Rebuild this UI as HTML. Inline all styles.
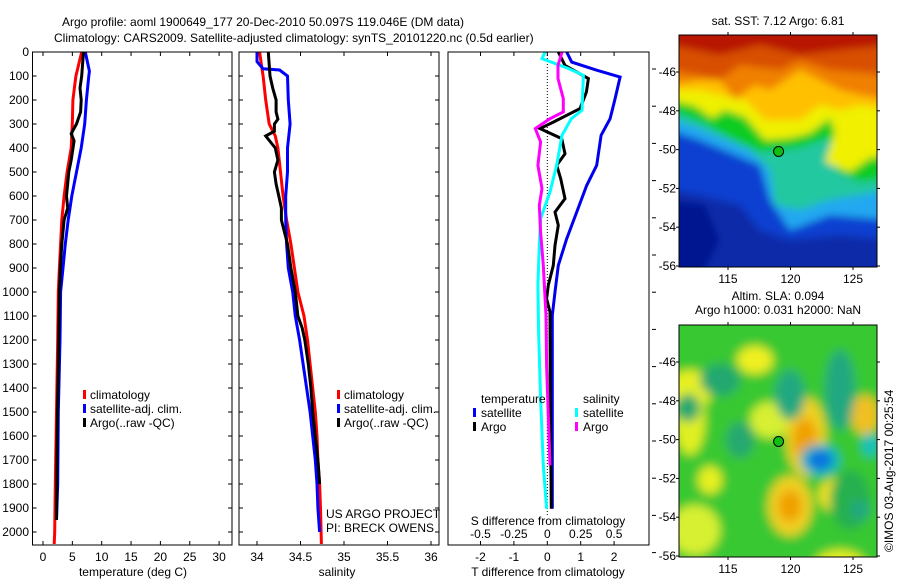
<!DOCTYPE html>
<html><head><meta charset="utf-8">
<style>
html,body{margin:0;padding:0;background:#fff;}
body{width:900px;height:580px;overflow:hidden;font-family:"Liberation Sans",sans-serif;}
svg text{font-family:"Liberation Sans",sans-serif;font-size:12px;fill:#000;}
</style></head>
<body>
<svg id="chart" width="900" height="580" viewBox="0 0 900 580" xmlns="http://www.w3.org/2000/svg">
<defs>
<filter id="blur3" x="-20%" y="-20%" width="140%" height="140%"><feGaussianBlur stdDeviation="4"/></filter>
<filter id="blur5" x="-50%" y="-50%" width="200%" height="200%"><feGaussianBlur stdDeviation="5"/></filter>
<clipPath id="clipM1"><rect x="679" y="35" width="198" height="232"/></clipPath>
<clipPath id="clipM2"><rect x="679" y="325" width="198" height="232"/></clipPath>
</defs>
<text x="62" y="26">Argo profile: aoml 1900649_177 20-Dec-2010 50.097S 119.046E (DM data)</text>
<text x="54" y="42">Climatology: CARS2009. Satellite-adjusted climatology: synTS_20101220.nc (0.5d earlier)</text>
<g id="panels"></g>
<g id="maps"></g>
</svg>
<script>
// ---------- data ----------
const tDepthClim = [0,100,200,300,400,500,600,700,800,900,1000,1200,1500,1800,2000,2050];
const tClim = [6.6,5.6,5.1,5.0,4.8,4.1,3.6,3.2,3.0,2.8,2.6,2.5,2.3,2.1,2.0,1.9];
const tDepthSat = [0,80,100,200,300,400,500,600,700,800,900,1000,1200,1500,1800,1950];
const tSat = [7.2,7.9,7.8,7.4,7.1,6.5,5.7,4.9,4.3,3.8,3.4,3.0,2.9,2.6,2.5,2.3];
const tDepthArgo = [0,100,150,200,250,300,340,370,450,500,600,650,700,800,900,1000,1300,1600,1950];
const tArgo = [6.9,6.6,6.3,6.5,6.4,5.7,4.8,5.3,4.8,4.4,4.0,4.2,3.6,3.2,2.95,2.8,2.6,2.4,2.3];

const sDepthClim = [0,50,100,200,300,350,400,500,600,700,800,900,1000,1100,1200,1300,1400,1500,1600,1700,1800,1900,2050];
const sClim = [34.03,34.05,34.07,34.10,34.14,34.21,34.24,34.27,34.30,34.34,34.39,34.43,34.47,34.54,34.58,34.61,34.64,34.67,34.69,34.70,34.72,34.73,34.74];
const sDepthSat = [0,40,70,75,100,200,300,400,500,600,700,800,900,1000,1100,1200,1300,1400,1500,1600,1700,1800,1900,2000];
const sSat = [34.00,34.00,34.07,34.26,34.35,34.36,34.38,34.35,34.35,34.33,34.33,34.34,34.36,34.41,34.44,34.49,34.53,34.57,34.61,34.64,34.67,34.69,34.70,34.72];
const sDepthArgo = [0,100,150,200,250,280,300,330,350,400,450,500,550,600,650,700,800,900,1000,1100,1150,1200,1300,1400,1500,1600,1700,1800];
const sArgo = [34.13,34.15,34.18,34.22,34.22,34.24,34.20,34.20,34.10,34.21,34.24,34.20,34.22,34.25,34.28,34.28,34.35,34.39,34.44,34.47,34.52,34.55,34.59,34.62,34.64,34.67,34.70,34.72];

const dDepthTSat = [0,42,76,104,194,278,347,472,556,667,778,889,1000,1097,1306,1903];
const dTSat = [0.58,0.73,1.48,2.18,2.03,1.88,1.61,1.48,1.18,0.88,0.58,0.33,0.23,0.15,0.15,0.15];
const dDepthTArgo = [0,56,111,167,236,292,319,361,424,472,528,611,667,722,806,889,972,1028,1083,1444,1903];
const dTArgo = [0.33,0.53,1.23,1.17,0.98,0.18,-0.22,0.43,0.53,0.28,0.40,0.53,0.23,0.33,0.23,0.18,0.03,-0.02,0.08,0.09,0.12];
const dDepthSSat = [0,28,69,97,243,278,347,472,583,694,806,972,1167,1444,1722,1903];
const dSSat = [-0.017,-0.04,0.16,0.27,0.26,0.18,0.11,0.07,0.02,-0.05,-0.06,-0.07,-0.065,-0.05,-0.03,-0.005];
const dDepthSArgo = [0,56,111,194,250,278,319,375,472,569,639,750,889,1097,1306,1722];
const dSArgo = [0.11,0.08,0.08,0.12,0.12,0.02,-0.09,-0.05,-0.07,-0.04,-0.06,-0.05,-0.03,-0.01,-0.005,0.02];

const depthTicks = [0,100,200,300,400,500,600,700,800,900,1000,1100,1200,1300,1400,1500,1600,1700,1800,1900,2000];
const tTicks = [0,5,10,15,20,25,30];
const sTicks = [34,34.5,35,35.5,36];
const sTickLabels = ['34','34.5','35','35.5','36'];
const dTTicks = [-2,-1,0,1,2];
const dSTicks = [-0.5,-0.25,0,0.25,0.5];
const dSTickLabels = ['-0.5','-0.25','0','0.25','0.5'];
const latTicks = [-46,-48,-50,-52,-54,-56];
const lonTicks = [115,120,125];
const argoLat = -50.097, argoLon = 119.046;

// ---------- helpers ----------
const NS='http://www.w3.org/2000/svg';
function mk(tag, attrs, parent){const e=document.createElementNS(NS,tag);for(const k in attrs)e.setAttribute(k,attrs[k]);parent.appendChild(e);return e;}
const TOP=52, BOT=545;
const yD = d => 52 + d*0.24;
const xT = t => 43 + t*5.87;
const xS = s => 257 + (s-34)*87;
const xDT = t => 547.3 + t*33.4;
const xDS = s => 547.3 + s*133.6;
const panels=document.getElementById('panels');

function stepLine(xs, ds, xf, color, name, parent){
  let d='';
  for(let i=0;i<xs.length;i++){
    const x=xf(xs[i]).toFixed(1), y=yD(ds[i]).toFixed(1);
    d += (i? 'L':'M')+x+' '+y;
  }
  const p=mk('path',{d:d,fill:'none',stroke:color,'stroke-width':3,'stroke-linejoin':'miter'},parent);
  
  
}
function frame(x0,x1,name){
  const r=mk('rect',{x:x0,y:TOP,width:x1-x0,height:BOT-TOP,fill:'none',stroke:'#000','stroke-width':1},panels);
  
  
}

// Panel 1 temperature
const g1=mk('g',{},panels);


frame(32.5,232,'temperature-axes');
depthTicks.forEach(d=>{
  const y=yD(d);
  mk('line',{x1:32.5,x2:36.5,y1:y,y2:y,stroke:'#000'},g1);
  mk('line',{x1:228,x2:232,y1:y,y2:y,stroke:'#000'},g1);
  const t=mk('text',{x:29,y:y+4,'text-anchor':'end'},g1);t.textContent=d;
  
  
});
tTicks.forEach(v=>{
  const x=xT(v);
  mk('line',{x1:x,x2:x,y1:BOT,y2:BOT-4,stroke:'#000'},g1);
  mk('line',{x1:x,x2:x,y1:TOP,y2:TOP+4,stroke:'#000'},g1);
  const t=mk('text',{x:x,y:561,'text-anchor':'middle'},g1);t.textContent=v;
  
  
});
let tt=mk('text',{x:133,y:576,'text-anchor':'middle'},g1);tt.textContent='temperature (deg C)';


stepLine(tClim,tDepthClim,xT,'#ff0000','temp-climatology-line',g1);
stepLine(tSat,tDepthSat,xT,'#0000ff','temp-satellite-line',g1);
stepLine(tArgo,tDepthArgo,xT,'#000000','temp-argo-line',g1);

// Panel 2 salinity
const g2=mk('g',{},panels);


frame(239,439,'salinity-axes');
depthTicks.forEach(d=>{
  const y=yD(d);
  mk('line',{x1:239,x2:243,y1:y,y2:y,stroke:'#000'},g2);
  mk('line',{x1:435,x2:439,y1:y,y2:y,stroke:'#000'},g2);
});
sTicks.forEach((v,i)=>{
  const x=xS(v);
  mk('line',{x1:x,x2:x,y1:BOT,y2:BOT-4,stroke:'#000'},g2);
  mk('line',{x1:x,x2:x,y1:TOP,y2:TOP+4,stroke:'#000'},g2);
  const t=mk('text',{x:x,y:561,'text-anchor':'middle'},g2);t.textContent=sTickLabels[i];
  
  
});
tt=mk('text',{x:337,y:576,'text-anchor':'middle'},g2);tt.textContent='salinity';


stepLine(sClim,sDepthClim,xS,'#ff0000','sal-climatology-line',g2);
stepLine(sSat,sDepthSat,xS,'#0000ff','sal-satellite-line',g2);
stepLine(sArgo,sDepthArgo,xS,'#000000','sal-argo-line',g2);

// legends 1 & 2
function legend(x0,parent,name){
  const lg=mk('g',{},parent);
  
  
  [['climatology','#ff0000'],['satellite-adj. clim.','#0000ff'],['Argo(..raw -QC)','#000']].forEach((e,i)=>{
    const y=399+i*14;
    mk('rect',{x:x0,y:y-9,width:3,height:9,fill:e[1]},lg);
    const t=mk('text',{x:x0+7,y:y},lg);t.textContent=e[0];
    
    
  });
}
legend(83,g1,'temperature-legend');
legend(337,g2,'salinity-legend');
let pt=mk('text',{x:326,y:518},g2);pt.textContent='US ARGO PROJECT';


pt=mk('text',{x:326,y:532},g2);pt.textContent='PI: BRECK OWENS';



// Panel 3 differences
const g3=mk('g',{},panels);


frame(448,649,'difference-axes');
for(let i=0;i<14;i++){
  const y=69+i*37.2;
  if(y<575) mk('line',{x1:652,x2:656,y1:y,y2:y,stroke:'#000'},g3);
}
mk('line',{x1:xDT(0),x2:xDT(0),y1:TOP,y2:BOT-30,stroke:'#000','stroke-dasharray':'1,2'},g3);
dTTicks.forEach(v=>{
  const x=xDT(v);
  mk('line',{x1:x,x2:x,y1:BOT,y2:BOT-4,stroke:'#000'},g3);
  mk('line',{x1:x,x2:x,y1:TOP,y2:TOP+4,stroke:'#000'},g3);
  const t=mk('text',{x:x,y:561,'text-anchor':'middle'},g3);t.textContent=v;
  
  
});
dSTicks.forEach((v,i)=>{
  const t=mk('text',{x:xDS(v),y:538,'text-anchor':'middle'},g3);t.textContent=dSTickLabels[i];
  
  
});
tt=mk('text',{x:548,y:576,'text-anchor':'middle'},g3);tt.textContent='T difference from climatology';


stepLine(dTSat,dDepthTSat,xDT,'#0000ee','tdiff-satellite-line',g3);
stepLine(dTArgo,dDepthTArgo,xDT,'#000000','tdiff-argo-line',g3);
stepLine(dSSat,dDepthSSat,xDS,'#00ffff','sdiff-satellite-line',g3);
stepLine(dSArgo,dDepthSArgo,xDS,'#ff00ff','sdiff-argo-line',g3);
tt=mk('text',{x:548,y:525,'text-anchor':'middle'},g3);tt.textContent='S difference from climatology';


const lg3=mk('g',{},g3);


[['temperature',481,403,null],['satellite',481,417,'#0000ff'],['Argo',481,431,'#000'],['salinity',583,403,null],['satellite',583,417,'#00ffff'],['Argo',583,431,'#ff00ff']].forEach(e=>{
  if(e[3]) mk('rect',{x:e[1]-8,y:e[2]-9,width:3,height:9,fill:e[3]},lg3);
  const t=mk('text',{x:e[1],y:e[2]},lg3);t.textContent=e[0];
  
  
});

// ---------- maps ----------
const maps=document.getElementById('maps');
function mapAxes(y0,name){
  const X0=679,W=198,H=232;
  const yL = lat => y0 + 37 + (-46-lat)*19.4;
  const xL = lon => 728 + (lon-115)*12.5;
  const g=mk('g',{},maps);
  
  
  mk('rect',{x:X0,y:y0,width:W,height:H,fill:'none',stroke:'#000'},g);
  latTicks.forEach(l=>{
    const y=yL(l);
    mk('line',{x1:X0,x2:X0-3,y1:y,y2:y,stroke:'#000'},g);
    mk('line',{x1:X0+W,x2:X0+W+3,y1:y,y2:y,stroke:'#000'},g);
    const t=mk('text',{x:676,y:y+4,'text-anchor':'end'},g);t.textContent=l;
    
    
  });
  lonTicks.forEach(l=>{
    const x=xL(l);
    mk('line',{x1:x,x2:x,y1:y0,y2:y0-3,stroke:'#000'},g);
    mk('line',{x1:x,x2:x,y1:y0+H,y2:y0+H+3,stroke:'#000'},g);
    const t=mk('text',{x:x,y:y0+H+16,'text-anchor':'middle'},g);t.textContent=l;
    
    
  });
  const c=mk('circle',{cx:xL(argoLon),cy:yL(argoLat),r:5,fill:'#10c010',stroke:'#000'},g);
  
  
}
// SST map
const m1=mk('g',{'clip-path':'url(#clipM1)'},maps);


const g1b=mk('g',{filter:'url(#blur3)'},m1);
mk('rect',{x:670,y:25,width:220,height:250,fill:'#1040d0'},g1b);
mk('path',{d:'M670 190 L700 195 L740 205 L760 230 L790 240 L840 235 L890 240 L890 280 L670 280Z',fill:'#0a2aa8'},g1b);
mk('path',{d:'M670 200 L705 205 L720 240 L700 280 L670 280Z',fill:'#001890'},g1b);
mk('path',{d:'M670 130 L700 140 L760 165 L770 200 L790 230 L830 215 L890 220 L890 25 L670 25Z',fill:'#20a8f0'},g1b);
mk('path',{d:'M670 118 L700 128 L750 150 L770 170 L775 205 L800 210 L830 200 L860 195 L890 190 L890 25 L670 25Z',fill:'#20c8a0'},g1b);
mk('path',{d:'M670 110 L700 122 L730 138 L760 152 L800 148 L830 138 L838 172 L860 182 L890 178 L890 25 L670 25Z',fill:'#10cc20'},g1b);
mk('path',{d:'M670 100 L695 106 L712 118 L725 110 L745 117 L765 140 L790 138 L810 133 L830 118 L835 133 L825 162 L850 172 L870 158 L890 155 L890 25 L670 25Z',fill:'#f0f000'},g1b);
mk('path',{d:'M670 90 L700 90 L720 95 L745 100 L765 120 L800 120 L820 105 L840 110 L860 105 L890 110 L890 25 L670 25Z',fill:'#ffc000'},g1b);
mk('path',{d:'M670 85 L700 80 L720 80 L735 100 L755 85 L770 90 L800 70 L820 80 L840 90 L860 95 L890 100 L890 25 L670 25Z',fill:'#f08000'},g1b);
mk('path',{d:'M670 70 L720 80 L740 65 L780 70 L800 60 L830 70 L890 75 L890 25 L670 25Z',fill:'#d85000'},g1b);
mk('path',{d:'M670 45 L720 55 L760 45 L800 55 L840 50 L890 45 L890 25 L670 25Z',fill:'#b81800'},g1b);
mapAxes(35,'sst-map');
let mt=mk('text',{x:778,y:25,'text-anchor':'middle'},maps);mt.textContent='sat. SST: 7.12 Argo: 6.81';



// SLA map
const m2=mk('g',{'clip-path':'url(#clipM2)'},maps);


const g2b=mk('g',{filter:'url(#blur5)'},m2);
mk('rect',{x:670,y:315,width:220,height:250,fill:'#38c830'},g2b);
[[690,390,22,20,'#e8f020'],[690,420,15,35,'#e0f020'],[755,360,18,14,'#f0f020'],[770,420,20,18,'#d8f030'],[806,437,20,40,'#f0d020'],[805,440,12,22,'#f0a000'],[840,495,22,18,'#f0e020'],[790,506,22,30,'#f0d020'],[790,506,12,16,'#f0a000'],[865,415,14,20,'#f0c020'],[840,565,25,15,'#e8f020'],[695,530,25,25,'#d8f030'],[710,480,12,14,'#e8f020']].forEach(e=>mk('ellipse',{cx:e[0],cy:e[1],rx:e[2],ry:e[3],fill:e[4]},g2b));
[[720,380,20,16,'#20a870'],[688,408,12,14,'#20a870'],[790,395,15,25,'#20a880'],[840,390,15,40,'#20a880'],[820,460,20,16,'#10b8c0'],[820,460,12,10,'#1070e0'],[870,445,8,12,'#10c0c0'],[850,500,20,30,'#28b050'],[740,440,14,18,'#28a870'],[860,510,10,10,'#20a880']].forEach(e=>mk('ellipse',{cx:e[0],cy:e[1],rx:e[2],ry:e[3],fill:e[4]},g2b));
mapAxes(325,'sla-map');
mt=mk('text',{x:778,y:300,'text-anchor':'middle'},maps);mt.textContent='Altim. SLA: 0.094';


mt=mk('text',{x:778,y:314,'text-anchor':'middle'},maps);mt.textContent='Argo h1000: 0.031 h2000: NaN';


mt=mk('text',{x:0,y:0,transform:'translate(893,552) rotate(-90)'},maps);mt.textContent='©IMOS 03-Aug-2017 00:25:54';


</script>
</body></html>
